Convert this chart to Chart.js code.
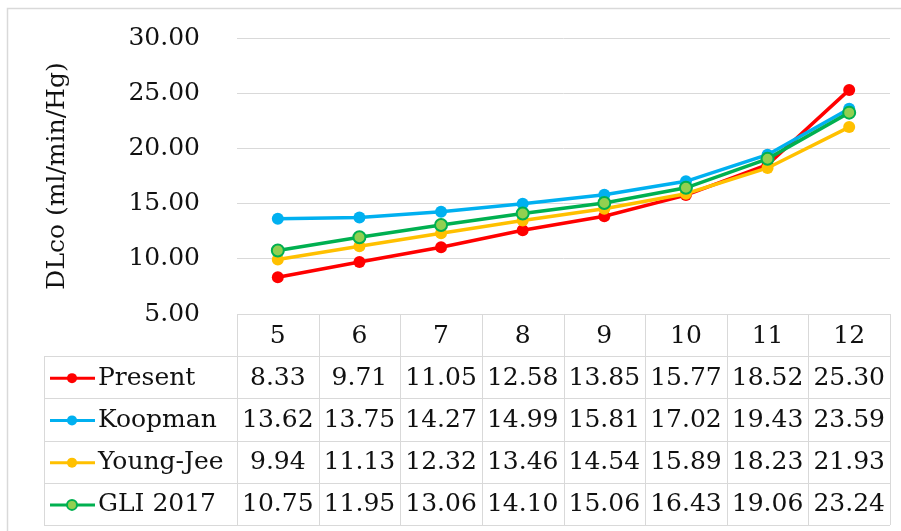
<!DOCTYPE html>
<html>
<head>
<meta charset="utf-8">
<script src="https://cdn.jsdelivr.net/npm/chart.js@4"></script>
<style>
  html, body { margin: 0; padding: 0; background: #fff; }
  #wrap { width: 901px; height: 531px; }
</style>
</head>
<body>
<div id="wrap"><canvas id="chart" width="901" height="531"></canvas></div>
<script>
const ages = ["5", "6", "7", "8", "9", "10", "11", "12"];
const present = [8.33, 9.71, 11.05, 12.58, 13.85, 15.77, 18.52, 25.30];
const koopman = [13.62, 13.75, 14.27, 14.99, 15.81, 17.02, 19.43, 23.59];
const youngJee = [9.94, 11.13, 12.32, 13.46, 14.54, 15.89, 18.23, 21.93];
const gli2017 = [10.75, 11.95, 13.06, 14.10, 15.06, 16.43, 19.06, 23.24];

const FONT = "DejaVu Serif";
const GRID = "#d9d9d9";
const TEXT = "#111111";

// data table under the plot, drawn from the x scale
const tablePlugin = {
  id: "dataTable",
  beforeDraw(chart) {
    const ctx = chart.ctx;
    ctx.save();
    ctx.strokeStyle = GRID;
    ctx.lineWidth = 1.5;
    ctx.beginPath();
    ctx.moveTo(7.5, 531);
    ctx.lineTo(7.5, 8.5);
    ctx.lineTo(901, 8.5);
    ctx.stroke();
    ctx.restore();
  },
  afterDraw(chart) {
    const ctx = chart.ctx;
    const x = chart.scales.x;
    const area = chart.chartArea;
    const colW = (area.right - area.left) / ages.length;
    const top = area.bottom;
    const headH = 42;
    const rowH = 42.25;
    const tableLeft = 44;
    const rows = chart.data.datasets;
    const bottom = top + headH + rowH * rows.length;

    ctx.save();
    ctx.strokeStyle = GRID;
    ctx.lineWidth = 1;
    ctx.beginPath();
    // header box
    ctx.moveTo(area.left, top + 0.5);
    ctx.lineTo(area.right, top + 0.5);
    for (let i = 0; i <= ages.length; i++) {
      const cx = Math.round(area.left + i * colW) + 0.5;
      ctx.moveTo(cx, top);
      ctx.lineTo(cx, bottom);
    }
    ctx.moveTo(tableLeft + 0.5, top + headH);
    ctx.lineTo(tableLeft + 0.5, bottom);
    for (let r = 0; r <= rows.length; r++) {
      const y = Math.round(top + headH + r * rowH) + 0.5;
      ctx.moveTo(tableLeft, y);
      ctx.lineTo(area.right, y);
    }
    ctx.stroke();

    ctx.font = "25px '" + FONT + "'";
    ctx.fillStyle = TEXT;
    ctx.textBaseline = "middle";
    ctx.textAlign = "center";
    ages.forEach((a, i) => {
      ctx.fillText(a, x.getPixelForValue(i), top + headH / 2 + 1);
    });

    rows.forEach((ds, r) => {
      const cy = top + headH + r * rowH + rowH / 2 + 1;
      // legend key
      ctx.strokeStyle = ds.borderColor;
      ctx.lineWidth = 3;
      ctx.beginPath();
      ctx.moveTo(50, cy);
      ctx.lineTo(95, cy);
      ctx.stroke();
      ctx.beginPath();
      ctx.arc(72, cy, 5, 0, Math.PI * 2);
      ctx.fillStyle = ds.pointBackgroundColor;
      ctx.fill();
      ctx.lineWidth = ds.pointBorderWidth;
      ctx.strokeStyle = ds.pointBorderColor;
      if (ds.pointBorderWidth) ctx.stroke();

      ctx.fillStyle = TEXT;
      ctx.textAlign = "left";
      ctx.fillText(ds.label, 98, cy);
      ctx.textAlign = "center";
      ds.data.forEach((v, i) => {
        ctx.fillText(v.toFixed(2), x.getPixelForValue(i), cy);
      });
    });
    ctx.restore();
  },
};

function series(label, data, color, fill, order) {
  return {
    label: label,
    data: data,
    borderColor: color,
    backgroundColor: color,
    borderWidth: 3.5,
    pointRadius: 6,
    pointHoverRadius: 6,
    pointBackgroundColor: fill,
    pointBorderColor: color,
    pointBorderWidth: fill === color ? 0 : 2,
    order: order,
  };
}

new Chart(document.getElementById("chart").getContext("2d"), {
  type: "line",
  data: {
    labels: ages,
    datasets: [
      series("Present", present, "#ff0000", "#ff0000", 3),
      series("Koopman", koopman, "#00b0f0", "#00b0f0", 2),
      series("Young-Jee", youngJee, "#ffc000", "#ffc000", 1),
      series("GLI 2017", gli2017, "#00b050", "#92d050", 0),
    ],
  },
  options: {
    responsive: false,
    animation: false,
    layout: {
      padding: { top: 38, right: 11, bottom: 217, left: 0 },
    },
    plugins: {
      legend: { display: false },
      tooltip: { enabled: false },
    },
    scales: {
      x: {
        display: false,
        offset: true,
      },
      y: {
        min: 5,
        max: 30,
        ticks: {
          stepSize: 5,
          padding: 0,
          color: TEXT,
          font: { family: FONT, size: 25 },
          callback: (v) => Number(v).toFixed(2),
        },
        // invisible tick marks push the labels away from the plot
        grid: { color: GRID, lineWidth: 1, drawTicks: true, tickLength: 37, tickColor: "rgba(0,0,0,0)" },
        border: { display: false },
        title: {
          display: true,
          text: "DLco (ml/min/Hg)",
          color: TEXT,
          font: { family: FONT, size: 25 },
          padding: { top: 42, bottom: 0 },
        },
        afterFit: (scale) => {
          scale.width = 237;
        },
      },
    },
  },
  plugins: [tablePlugin],
});
</script>
</body>
</html>
